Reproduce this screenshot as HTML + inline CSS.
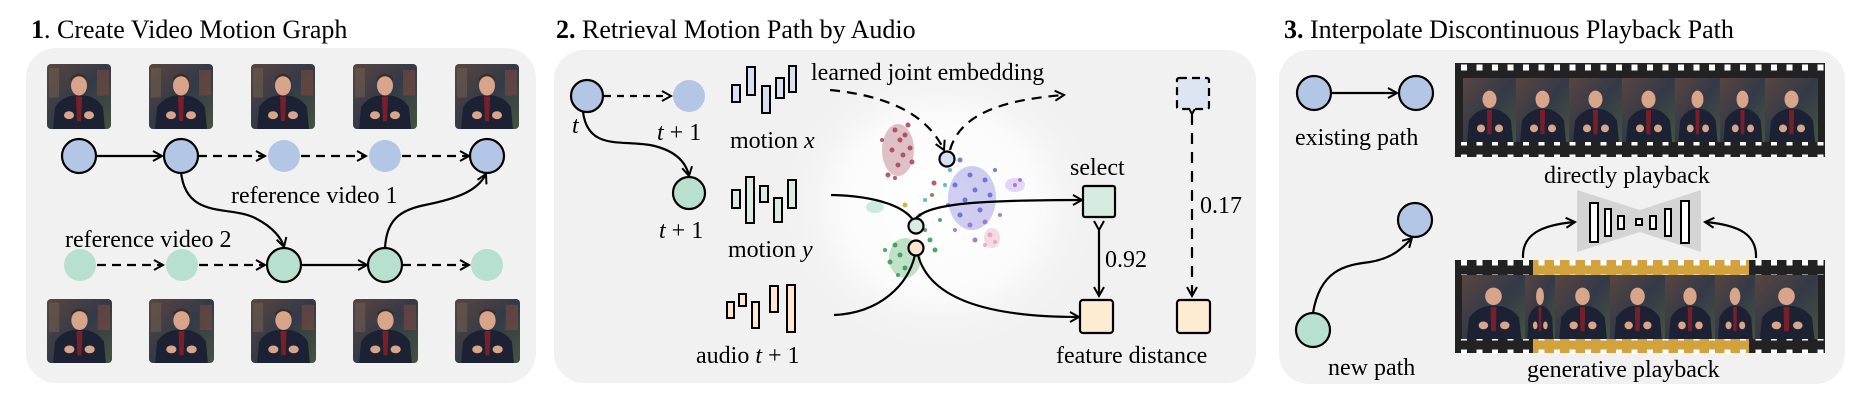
<!DOCTYPE html>
<html><head><meta charset="utf-8"><style>
html,body{margin:0;padding:0;background:#fff;width:1858px;height:412px;overflow:hidden}
svg{display:block}
text{font-family:"Liberation Serif",serif;fill:#000}
</style></head><body>
<svg width="1858" height="412" viewBox="0 0 1858 412" xmlns="http://www.w3.org/2000/svg">
<defs>
<marker id="ar" viewBox="0 0 12 12" refX="10" refY="6" markerWidth="12" markerHeight="12" markerUnits="userSpaceOnUse" orient="auto">
<path d="M1,1 L10,6 L1,11" fill="none" stroke="#000" stroke-width="2"/></marker>
<radialGradient id="glow"><stop offset="0" stop-color="#fff"/><stop offset="0.6" stop-color="#fbfbfb"/><stop offset="1" stop-color="#f1f1f1" stop-opacity="0"/></radialGradient>
<linearGradient id="bgth" x1="0" y1="0" x2="1" y2="1"><stop offset="0" stop-color="#5a4540"/><stop offset="0.5" stop-color="#343a48"/><stop offset="1" stop-color="#45543f"/></linearGradient>
<symbol id="th" viewBox="0 0 64 66" preserveAspectRatio="none">
<rect width="64" height="66" rx="4" fill="url(#bgth)"/>
<rect x="2" y="4" width="10" height="30" fill="#6a5b4e" opacity=".6"/>
<rect x="50" y="6" width="12" height="26" fill="#7a4a40" opacity=".6"/>
<path d="M6,66 L8,44 Q14,34 26,32 L38,32 Q50,34 56,44 L58,66 Z" fill="#1c2233"/>
<path d="M29,33 L35,33 L34,58 L30,58 Z" fill="#7a1f2a"/>
<ellipse cx="32" cy="22" rx="8" ry="10" fill="#d8a58a"/>
<path d="M24,17 Q32,8 40,17 L40,14 Q32,6 24,14 Z" fill="#3a2c26"/>
<ellipse cx="22" cy="52" rx="5" ry="4" fill="#d8a58a"/>
<ellipse cx="42" cy="52" rx="5" ry="4" fill="#d8a58a"/>
</symbol>
<symbol id="fr" viewBox="0 0 53 66" preserveAspectRatio="none">
<rect width="53" height="66" fill="url(#bgth)"/>
<path d="M4,66 L6,44 Q12,34 22,32 L32,32 Q42,34 48,44 L50,66 Z" fill="#1c2233"/>
<path d="M24,33 L29,33 L28.5,58 L24.5,58 Z" fill="#7a1f2a"/>
<ellipse cx="26.5" cy="22" rx="7" ry="9" fill="#d8a58a"/>
<ellipse cx="18" cy="52" rx="4" ry="4" fill="#d8a58a"/>
<ellipse cx="36" cy="52" rx="4" ry="4" fill="#d8a58a"/>
</symbol>
<pattern id="spr" x="0" y="0" width="15.5" height="15" patternUnits="userSpaceOnUse">
<rect x="4" y="4.5" width="6" height="6" fill="#fff"/></pattern>
</defs>

<rect x="26" y="48" width="510" height="335" rx="30" fill="#f1f1f1"/>
<rect x="554" y="50" width="702" height="333" rx="30" fill="#f1f1f1"/>
<rect x="1279" y="50" width="566" height="334" rx="30" fill="#f1f1f1"/>

<text x="31" y="38" font-size="26"><tspan font-weight="bold">1</tspan>. Create Video Motion Graph</text>
<text x="556" y="38" font-size="26"><tspan font-weight="bold">2.</tspan> Retrieval Motion Path by Audio</text>
<text x="1284" y="38" font-size="26"><tspan font-weight="bold">3.</tspan> Interpolate Discontinuous Playback Path</text>

<g>
<use href="#th" x="47" y="64" width="64" height="65"/>
<use href="#th" x="149" y="64" width="64" height="65"/>
<use href="#th" x="251" y="64" width="64" height="65"/>
<use href="#th" x="353" y="64" width="64" height="65"/>
<use href="#th" x="455" y="64" width="64" height="65"/>
<use href="#th" x="47" y="299" width="65" height="64"/>
<use href="#th" x="149" y="299" width="65" height="64"/>
<use href="#th" x="251" y="299" width="65" height="64"/>
<use href="#th" x="353" y="299" width="65" height="64"/>
<use href="#th" x="455" y="299" width="65" height="64"/>
</g>
<g stroke="#000" stroke-width="2.2" fill="none">
<line x1="96" y1="156" x2="162" y2="156" marker-end="url(#ar)"/>
<line x1="198" y1="156" x2="265" y2="156" stroke-dasharray="9,6" marker-end="url(#ar)"/>
<line x1="301" y1="156" x2="366" y2="156" stroke-dasharray="9,6" marker-end="url(#ar)"/>
<line x1="402" y1="156" x2="469" y2="156" stroke-dasharray="9,6" marker-end="url(#ar)"/>
<line x1="97" y1="265" x2="163" y2="265" stroke-dasharray="9,6" marker-end="url(#ar)"/>
<line x1="199" y1="265" x2="265" y2="265" stroke-dasharray="9,6" marker-end="url(#ar)"/>
<line x1="301" y1="265" x2="367" y2="265" marker-end="url(#ar)"/>
<line x1="402" y1="265" x2="469" y2="265" stroke-dasharray="9,6" marker-end="url(#ar)"/>
<path d="M181,172 C186,220 230,205 255,218 C275,228 282,240 284,247" marker-end="url(#ar)"/>
<path d="M385,249 C386,220 400,210 425,205 C460,198 478,190 486,174" marker-end="url(#ar)"/>
</g>
<g stroke="#000" stroke-width="2.2">
<circle cx="79" cy="156" r="17" fill="#b3c6e6"/>
<circle cx="181" cy="156" r="17" fill="#b3c6e6"/>
<circle cx="284" cy="156" r="16" fill="#b3c6e6" stroke="none"/>
<circle cx="385" cy="156" r="16" fill="#b3c6e6" stroke="none"/>
<circle cx="487" cy="156" r="17" fill="#b3c6e6"/>
<circle cx="80" cy="265" r="16" fill="#b8e0cf" stroke="none"/>
<circle cx="182" cy="265" r="16" fill="#b8e0cf" stroke="none"/>
<circle cx="284" cy="265" r="17" fill="#b8e0cf"/>
<circle cx="385" cy="265" r="17" fill="#b8e0cf"/>
<circle cx="487" cy="265" r="16" fill="#b8e0cf" stroke="none"/>
</g>
<text x="231" y="203" font-size="24">reference video 1</text>
<text x="65" y="247" font-size="24">reference video 2</text>

<ellipse cx="940" cy="205" rx="165" ry="150" fill="url(#glow)"/>
<g opacity="0.55">
<ellipse cx="898" cy="150" rx="16" ry="26" fill="#c9909c"/>
<ellipse cx="972" cy="198" rx="24" ry="32" fill="#a9a6e6"/>
<ellipse cx="905" cy="258" rx="16" ry="20" fill="#8ccc9c"/>
<ellipse cx="992" cy="238" rx="8" ry="10" fill="#f0c0d0"/>
<ellipse cx="1015" cy="185" rx="10" ry="7" fill="#d0b8f0"/>
<ellipse cx="875" cy="207" rx="9" ry="6" fill="#a8dcc8"/>
</g>
<g opacity="0.85">
<g fill="#a8404f"><circle cx="895" cy="130" r="2.5"/><circle cx="900" cy="140" r="2.5"/><circle cx="905" cy="135" r="2.5"/><circle cx="892" cy="150" r="2.5"/><circle cx="903" cy="155" r="2.5"/><circle cx="910" cy="148" r="2.5"/><circle cx="898" cy="165" r="2.5"/><circle cx="888" cy="175" r="2.5"/><circle cx="908" cy="125" r="2.5"/><circle cx="912" cy="162" r="2.5"/><circle cx="882" cy="140" r="2"/><circle cx="895" cy="178" r="2"/><circle cx="934" cy="183" r="2.5"/></g>
<g fill="#5a6ad8"><circle cx="960" cy="160" r="2.5"/><circle cx="970" cy="175" r="2.5"/><circle cx="975" cy="190" r="2.5"/><circle cx="985" cy="180" r="2.5"/><circle cx="965" cy="200" r="2.5"/><circle cx="990" cy="195" r="2.5"/><circle cx="955" cy="185" r="2.5"/><circle cx="980" cy="210" r="2.5"/><circle cx="960" cy="215" r="2.5"/><circle cx="995" cy="170" r="2"/><circle cx="948" cy="205" r="2"/></g>
<g fill="#9a6ad0"><circle cx="970" cy="225" r="2.5"/><circle cx="985" cy="222" r="2.5"/><circle cx="975" cy="240" r="2.5"/><circle cx="1000" cy="215" r="2"/><circle cx="1015" cy="185" r="2"/><circle cx="1020" cy="180" r="2"/><circle cx="955" cy="230" r="2"/></g>
<g fill="#2e9a4a"><circle cx="895" cy="245" r="2.5"/><circle cx="900" cy="255" r="2.5"/><circle cx="890" cy="262" r="2.5"/><circle cx="905" cy="268" r="2.5"/><circle cx="898" cy="275" r="2"/><circle cx="930" cy="240" r="2.5"/><circle cx="935" cy="250" r="2.5"/><circle cx="925" cy="230" r="2"/><circle cx="940" cy="220" r="2"/><circle cx="885" cy="250" r="2"/></g>
<g fill="#e8a0b8"><circle cx="990" cy="235" r="2.5"/><circle cx="995" cy="242" r="2"/><circle cx="985" cy="245" r="2"/></g>
<g fill="#40b0c0"><circle cx="945" cy="185" r="2"/><circle cx="925" cy="200" r="2"/><circle cx="950" cy="170" r="2"/><circle cx="920" cy="215" r="2"/></g>
<circle cx="905" cy="205" r="2.5" fill="#c0b020"/><circle cx="932" cy="195" r="2" fill="#a06030"/>
</g>
<g stroke="#000" stroke-width="2.2" fill="none">
<line x1="604" y1="96" x2="671" y2="96" stroke-dasharray="7,6" marker-end="url(#ar)"/>
<path d="M583,112 C588,150 620,140 650,145 C675,150 686,162 689,176" marker-end="url(#ar)"/>
<path d="M830,90 C880,95 925,110 944,150" stroke-dasharray="10,7" marker-end="url(#ar)"/>
<path d="M950,150 C960,115 1000,100 1064,95" stroke-dasharray="10,7" marker-end="url(#ar)"/>
<path d="M831,195 C880,196 905,208 913,220"/>
<path d="M912,224 C920,205 960,200 1082,200" marker-end="url(#ar)"/>
<path d="M834,315 C880,313 908,285 915,255"/>
<path d="M918,255 C930,300 990,317 1079,317" marker-end="url(#ar)"/>
<line x1="1099" y1="230" x2="1099" y2="296" marker-start="url(#ar)" marker-end="url(#ar)"/>
<line x1="1192" y1="114" x2="1192" y2="296" stroke-dasharray="11,8" marker-start="url(#ar)" marker-end="url(#ar)"/>
</g>
<g stroke="#000" stroke-width="2.2">
<circle cx="587" cy="96" r="16" fill="#b3c6e6"/>
<circle cx="689" cy="96" r="16" fill="#b3c6e6" stroke="none"/>
<circle cx="689" cy="193" r="16" fill="#b8e0cf"/>
<circle cx="947" cy="159" r="7.5" fill="#d6e0f2"/>
<circle cx="916" cy="226" r="7.5" fill="#d8ece2"/>
<circle cx="916" cy="248" r="7.5" fill="#fbe6cf"/>
<rect x="1083" y="186" width="32" height="31" rx="2" fill="#d6ece0"/>
<rect x="1080" y="300" width="33" height="33" rx="3" fill="#fdebd2"/>
<rect x="1177" y="300" width="33" height="33" rx="3" fill="#fdebd2"/>
<rect x="1177" y="78" width="32" height="31" rx="2" fill="#dde5f4" stroke-dasharray="8,5"/>
</g>
<g stroke="#000" stroke-width="2" fill="#d6e0f2">
<rect x="732" y="85" width="8" height="17"/><rect x="747" y="67" width="8" height="28"/><rect x="762" y="86" width="8" height="27"/><rect x="776" y="78" width="8" height="20"/><rect x="789" y="66" width="7" height="26"/>
</g>
<g stroke="#000" stroke-width="2" fill="#d8ece2">
<rect x="732" y="190" width="8" height="18"/><rect x="746" y="177" width="8" height="46"/><rect x="760" y="186" width="8" height="16"/><rect x="774" y="198" width="8" height="24"/><rect x="788" y="180" width="8" height="28"/>
</g>
<g stroke="#000" stroke-width="2" fill="#fde8cf">
<rect x="727" y="302" width="7" height="16"/><rect x="739" y="294" width="7" height="12"/><rect x="752" y="302" width="7" height="26"/><rect x="770" y="286" width="8" height="26"/><rect x="787" y="285" width="8" height="47"/>
</g>
<g font-size="24">
<text x="572" y="133" font-style="italic">t</text>
<text x="657" y="140"><tspan font-style="italic">t</tspan> + 1</text>
<text x="659" y="238"><tspan font-style="italic">t</tspan> + 1</text>
<text x="730" y="148">motion <tspan font-style="italic">x</tspan></text>
<text x="728" y="257">motion <tspan font-style="italic">y</tspan></text>
<text x="696" y="363">audio <tspan font-style="italic">t</tspan> + 1</text>
<text x="811" y="80">learned joint embedding</text>
<text x="1070" y="175">select</text>
<text x="1105" y="267">0.92</text>
<text x="1200" y="213">0.17</text>
<text x="1056" y="363">feature distance</text>
</g>

<g stroke="#000" stroke-width="2.2" fill="none">
<line x1="1331" y1="93" x2="1397" y2="93" marker-end="url(#ar)"/>
<path d="M1313,313 C1320,270 1345,265 1370,262 C1395,258 1405,245 1412,238" marker-end="url(#ar)"/>
<path d="M1523,258 C1522,235 1540,225 1575,222" marker-end="url(#ar)"/>
<path d="M1756,258 C1757,235 1740,225 1705,222" marker-end="url(#ar)"/>
</g>
<g stroke="#000" stroke-width="2.2">
<circle cx="1314" cy="93" r="17" fill="#b3c6e6"/>
<circle cx="1416" cy="93" r="17" fill="#b3c6e6"/>
<circle cx="1415" cy="220" r="17" fill="#b3c6e6"/>
<circle cx="1313" cy="330" r="17" fill="#b8e0cf"/>
</g>
<rect x="1455" y="63" width="370" height="94" fill="#222"/>
<rect x="1455" y="63" width="370" height="15" fill="url(#spr)"/>
<rect x="1455" y="142" width="370" height="15" fill="url(#spr)"/>
<use href="#fr" x="1463" y="78" width="53" height="64"/>
<use href="#fr" x="1516" y="78" width="53" height="64"/>
<use href="#fr" x="1569" y="78" width="53" height="64"/>
<use href="#fr" x="1622" y="78" width="53" height="64"/>
<use href="#fr" x="1675" y="78" width="45" height="64"/>
<use href="#fr" x="1720" y="78" width="45" height="64"/>
<use href="#fr" x="1765" y="78" width="53" height="64"/>
<rect x="1455" y="260" width="370" height="93" fill="#222"/>
<rect x="1533" y="260" width="216" height="93" fill="#d2a23c"/>
<rect x="1455" y="260" width="370" height="15" fill="url(#spr)"/>
<rect x="1455" y="339" width="370" height="15" fill="url(#spr)"/>
<use href="#fr" x="1462" y="275" width="63" height="64"/>
<use href="#fr" x="1525" y="275" width="30" height="64"/>
<use href="#fr" x="1555" y="275" width="55" height="64"/>
<use href="#fr" x="1610" y="275" width="55" height="64"/>
<use href="#fr" x="1665" y="275" width="50" height="64"/>
<use href="#fr" x="1715" y="275" width="40" height="64"/>
<use href="#fr" x="1755" y="275" width="63" height="64"/>
<path d="M1577,190 L1640,210 L1701,190 L1701,252 L1640,232 L1577,252 Z" fill="#d4d4d4"/>
<g stroke="#000" stroke-width="2" fill="#fff">
<rect x="1590" y="203" width="8" height="39"/><rect x="1605" y="209" width="6" height="27"/><rect x="1618" y="216" width="6" height="13"/><rect x="1636" y="219" width="6" height="6"/><rect x="1650" y="216" width="6" height="13"/><rect x="1665" y="209" width="6" height="27"/><rect x="1681" y="201" width="8" height="42"/>
</g>
<g font-size="24">
<text x="1295" y="145">existing path</text>
<text x="1544" y="183">directly playback</text>
<text x="1328" y="375">new path</text>
<text x="1527" y="377">generative playback</text>
</g>
</svg>
</body></html>
